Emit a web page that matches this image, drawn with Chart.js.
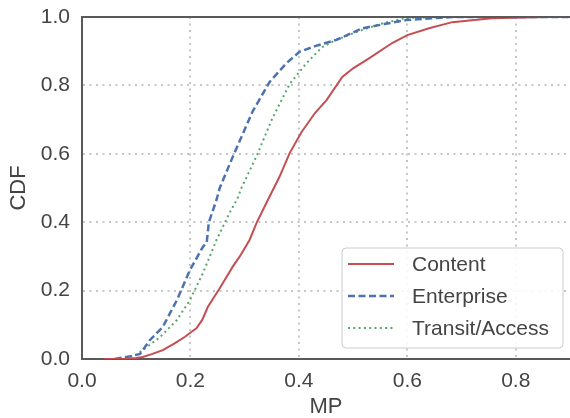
<!DOCTYPE html>
<html>
<head>
<meta charset="utf-8">
<script src="https://cdn.jsdelivr.net/npm/chart.js@4.4.1/dist/chart.umd.min.js"></script>
<style>
  html, body { margin: 0; padding: 0; background: #ffffff; }
  #wrap { width: 570px; height: 418px; position: relative; }
</style>
</head>
<body>
<div id="wrap"><canvas id="c" width="570" height="418"></canvas></div>
<script>
// ---- data (x = MP, y = CDF) ----
const seriesLabels = ["Content", "Enterprise", "Transit/Access"];

const contentX = [0.04,0.08,0.10,0.112,0.13,0.149,0.17,0.19,0.199,0.211,0.222,0.232,0.254,0.278,0.291,0.309,0.322,0.34,0.364,0.383,0.405,0.43,0.451,0.48,0.50,0.53,0.572,0.60,0.64,0.683,0.756,0.855,0.90];
const contentY = [0.000,0.001,0.003,0.006,0.015,0.026,0.045,0.065,0.076,0.090,0.115,0.152,0.207,0.270,0.300,0.348,0.398,0.456,0.532,0.602,0.664,0.720,0.757,0.825,0.850,0.880,0.924,0.947,0.967,0.985,0.996,1.000,1.000];

const enterpriseX = [0.06,0.07,0.09,0.107,0.125,0.149,0.175,0.199,0.223,0.230,0.234,0.248,0.254,0.278,0.315,0.346,0.377,0.401,0.43,0.469,0.517,0.56,0.598,0.683,0.90];
const enterpriseY = [0.000,0.003,0.008,0.015,0.055,0.094,0.172,0.260,0.328,0.340,0.400,0.465,0.500,0.591,0.725,0.810,0.865,0.898,0.915,0.933,0.967,0.980,0.991,1.000,1.000];

const transitX = [0.06,0.08,0.10,0.112,0.144,0.175,0.199,0.223,0.248,0.272,0.287,0.294,0.323,0.350,0.383,0.414,0.443,0.469,0.506,0.55,0.598,0.67,0.90];
const transitY = [0.000,0.003,0.012,0.026,0.064,0.114,0.172,0.251,0.348,0.427,0.470,0.500,0.597,0.700,0.804,0.865,0.912,0.933,0.956,0.980,0.997,1.000,1.000];

const xTicks = [0.0, 0.2, 0.4, 0.6, 0.8];
const yTicks = [0.0, 0.2, 0.4, 0.6, 0.8, 1.0];

function pts(xs, ys) { return xs.map((x, i) => ({ x: x, y: ys[i] })); }

const FONT = "'Liberation Sans', Arial, sans-serif";
const TEXT = "#444444";
const colors = ["#C44E52", "#4C72B0", "#55A868"];
const dashes = [[], [7, 3.5], [2, 3.3]];
const widths = [2, 2.5, 2];

// frame (top spine) plugin
const framePlugin = {
  id: "frame",
  afterDraw(chart) {
    const { ctx, chartArea: a } = chart;
    ctx.save();
    ctx.strokeStyle = "#5a5a5a";
    ctx.lineWidth = 2;
    ctx.beginPath();
    ctx.moveTo(a.left, a.top);
    ctx.lineTo(a.right, a.top);
    ctx.stroke();
    ctx.restore();
  }
};

// legend inside the plot area (lower right)
const innerLegend = {
  id: "innerLegend",
  afterDraw(chart) {
    const { ctx, chartArea: a } = chart;
    const w = 221, h = 100;
    const x0 = a.right - 7 - w, y0 = a.bottom - 11 - h;
    ctx.save();
    ctx.beginPath();
    const r = 4;
    ctx.moveTo(x0 + r, y0);
    ctx.arcTo(x0 + w, y0, x0 + w, y0 + h, r);
    ctx.arcTo(x0 + w, y0 + h, x0, y0 + h, r);
    ctx.arcTo(x0, y0 + h, x0, y0, r);
    ctx.arcTo(x0, y0, x0 + w, y0, r);
    ctx.closePath();
    ctx.fillStyle = "rgba(255,255,255,0.85)";
    ctx.fill();
    ctx.strokeStyle = "#cccccc";
    ctx.lineWidth = 1;
    ctx.stroke();
    chart.data.datasets.forEach((ds, i) => {
      const cy = y0 + 16 + i * 32;
      ctx.beginPath();
      ctx.setLineDash(ds.borderDash || []);
      ctx.strokeStyle = ds.borderColor;
      ctx.lineWidth = ds.borderWidth;
      ctx.moveTo(x0 + 6, cy);
      ctx.lineTo(x0 + 52, cy);
      ctx.stroke();
      ctx.setLineDash([]);
      ctx.fillStyle = TEXT;
      ctx.font = "21px " + FONT;
      ctx.textBaseline = "middle";
      ctx.textAlign = "left";
      ctx.fillText(ds.label, x0 + 70, cy + 1);
    });
    ctx.restore();
  }
};

const datasets = [
  pts(contentX, contentY),
  pts(enterpriseX, enterpriseY),
  pts(transitX, transitY)
].map((d, i) => ({
  label: seriesLabels[i],
  data: d,
  borderColor: colors[i],
  backgroundColor: colors[i],
  borderWidth: widths[i],
  borderDash: dashes[i],
  pointRadius: 0,
  tension: 0,
  fill: false
}));

new Chart(document.getElementById("c"), {
  type: "line",
  data: { datasets: datasets },
  options: {
    responsive: false,
    animation: false,
    layout: { padding: { top: 17, right: 0, left: 0, bottom: 0 } },
    plugins: { legend: { display: false }, tooltip: { enabled: false } },
    scales: {
      x: {
        type: "linear",
        min: 0, max: 0.9,
        afterFit(s) { s.height = 59; s.paddingLeft = 0; s.paddingRight = 0; },
        afterBuildTicks(s) { s.ticks = xTicks.map(v => ({ value: v })); },
        ticks: { color: TEXT, font: { family: FONT, size: 21 }, padding: 10,
                 callback: v => Number(v).toFixed(1) },
        grid: { color: "#c6c6c6", lineWidth: 2, drawTicks: false },
        border: { color: "#5a5a5a", width: 2, dash: [2, 4.5] },
        title: { display: true, text: "MP", color: TEXT,
                 font: { family: FONT, size: 22, lineHeight: 1.0 }, padding: 0 }
      },
      y: {
        type: "linear",
        min: 0, max: 1,
        afterFit(s) { s.width = 82; s.paddingTop = 0; s.paddingBottom = 0; },
        afterBuildTicks(s) { s.ticks = yTicks.map(v => ({ value: v })); },
        ticks: { color: TEXT, font: { family: FONT, size: 21 }, padding: 12,
                 callback: v => Number(v).toFixed(1) },
        grid: { color: "#c6c6c6", lineWidth: 2, drawTicks: false },
        border: { color: "#5a5a5a", width: 2, dash: [2, 4.5] },
        title: { display: true, text: "CDF", color: TEXT,
                 font: { family: FONT, size: 22 }, padding: { top: 6, bottom: 0 } }
      }
    }
  },
  plugins: [framePlugin, innerLegend]
});
</script>
</body>
</html>
